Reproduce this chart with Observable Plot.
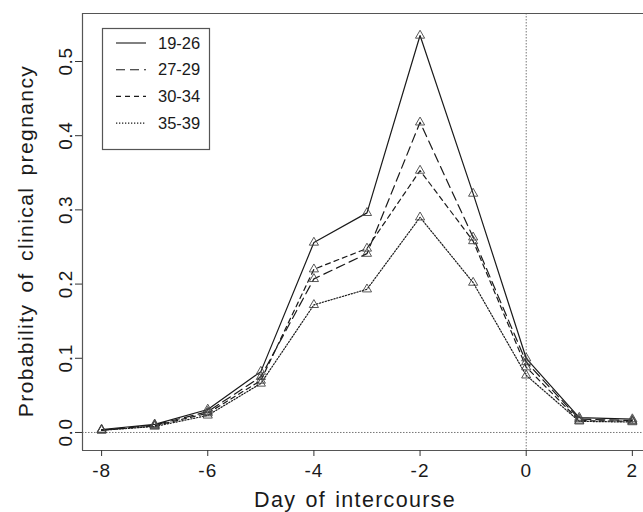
<!DOCTYPE html>
<html>
<head>
<meta charset="utf-8">
<script src="https://cdn.jsdelivr.net/npm/d3@7"></script>
<script src="https://cdn.jsdelivr.net/npm/@observablehq/plot@0.6"></script>
<style>
  html, body { margin: 0; padding: 0; background: #fff; overflow: hidden; }
  svg { display: block; }
</style>
</head>
<body>
<div id="chart"></div>
<script>
const days = [-8, -7, -6, -5, -4, -3, -2, -1, 0, 1, 2];
const ageGroups = ["19-26", "27-29", "30-34", "35-39"];
const p1926 = [0.004, 0.011, 0.031, 0.082, 0.256, 0.296, 0.535, 0.322, 0.100, 0.020, 0.018];
const p2729 = [0.003, 0.010, 0.028, 0.075, 0.207, 0.241, 0.418, 0.263, 0.095, 0.018, 0.016];
const p3034 = [0.003, 0.009, 0.026, 0.070, 0.220, 0.248, 0.353, 0.258, 0.088, 0.016, 0.015];
const p3539 = [0.003, 0.008, 0.023, 0.066, 0.172, 0.193, 0.290, 0.202, 0.077, 0.015, 0.014];
const xTicks = [-8, -6, -4, -2, 0, 2];
const yTicks = [0.0, 0.1, 0.2, 0.3, 0.4, 0.5];
const xLabel = "Day of intercourse";
const yLabel = "Probability of clinical pregnancy";

const seriesValues = [p1926, p2729, p3034, p3539];
const dashes = ["none", "9,5", "5,4", "1.3,1.7"];
const data = [];
ageGroups.forEach((g, i) => days.forEach((d, j) => data.push({group: g, day: d, p: seriesValues[i][j]})));

const xDom = [-8.36, 2.21];
const yDom = [-0.0243, 0.5647];
const font = "'Liberation Sans', Arial, Helvetica, sans-serif";
const ink = "#1a1a1a";

const marks = [
  Plot.ruleX([0], {stroke: "#777", strokeDasharray: "1.5,1.5", strokeWidth: 1}),
  Plot.ruleY([0], {stroke: "#777", strokeDasharray: "1.5,1.5", strokeWidth: 1})
];
ageGroups.forEach((g, i) => {
  marks.push(Plot.line(data.filter(d => d.group === g), {x: "day", y: "p", stroke: ink, strokeWidth: 1.2, strokeDasharray: dashes[i]}));
});
marks.push(Plot.dot(data, {x: "day", y: "p", symbol: "triangle", r: 3.4, stroke: "#444", strokeWidth: 0.9, fill: "none"}));
marks.push(
  Plot.ruleX([xDom[0]], {stroke: "#555", strokeWidth: 1.2}),
  Plot.ruleY([yDom[0]], {stroke: "#555", strokeWidth: 1.2}),
  Plot.ruleY([yDom[1]], {stroke: "#555", strokeWidth: 1.2}),
  Plot.axisX(xTicks, {tickSize: 6, tickPadding: 7, fontSize: 19, tickFormat: d => String(d), label: null, stroke: "#333", fill: ink}),
  Plot.axisY(yTicks, {tickSize: 7, tickRotate: -90, tickPadding: 4, fontSize: 19, tickFormat: d => d.toFixed(1), label: null, stroke: "#333", fill: ink}),
  Plot.text([xLabel], {frameAnchor: "bottom", dy: 56, dx: -8, fontSize: 21.5, fill: ink}),
  Plot.text([yLabel], {frameAnchor: "left", rotate: -90, textAnchor: "middle", dx: -56, dy: 9, fontSize: 21, fill: ink})
);

const chart = Plot.plot({
  width: 643,
  height: 512,
  marginLeft: 82,
  marginTop: 13,
  marginBottom: 62,
  marginRight: 0,
  x: {domain: xDom, axis: null},
  y: {domain: yDom, axis: null},
  style: {fontFamily: font, background: "#fff", color: ink},
  marks
});

const svg = d3.select(chart);
// widen lettering to match the reference typesetting
const xTickStrings = new Set(xTicks.map(String));
svg.selectAll("text").each(function() {
  const t = this.textContent;
  if (t === xLabel) d3.select(this).attr("letter-spacing", "1.3px").attr("word-spacing", "2px");
  else if (t === yLabel) d3.select(this).attr("letter-spacing", "1.4px").attr("word-spacing", "4px");
  else if (xTickStrings.has(t)) d3.select(this).attr("letter-spacing", "1px");
  else if (/^0\.\d$/.test(t)) d3.select(this).attr("letter-spacing", "0.6px");
});

// Legend
const lg = svg.append("g").attr("font-family", font).attr("text-anchor", "start");
lg.append("rect").attr("x", 102.5).attr("y", 28.5).attr("width", 107).attr("height", 121)
  .attr("fill", "#fff").attr("stroke", "#555").attr("stroke-width", 1.2);
ageGroups.forEach((g, i) => {
  const yy = 43 + i * 26.7;
  lg.append("line").attr("x1", 116).attr("x2", 146).attr("y1", yy).attr("y2", yy)
    .attr("stroke", ink).attr("stroke-width", 1.1).attr("stroke-dasharray", dashes[i]);
  lg.append("text").attr("x", 158).attr("y", yy).attr("dy", "0.35em").attr("font-size", 16.5)
    .attr("text-anchor", "start").attr("fill", ink).text(g);
});

document.getElementById("chart").appendChild(chart);
</script>
</body>
</html>
